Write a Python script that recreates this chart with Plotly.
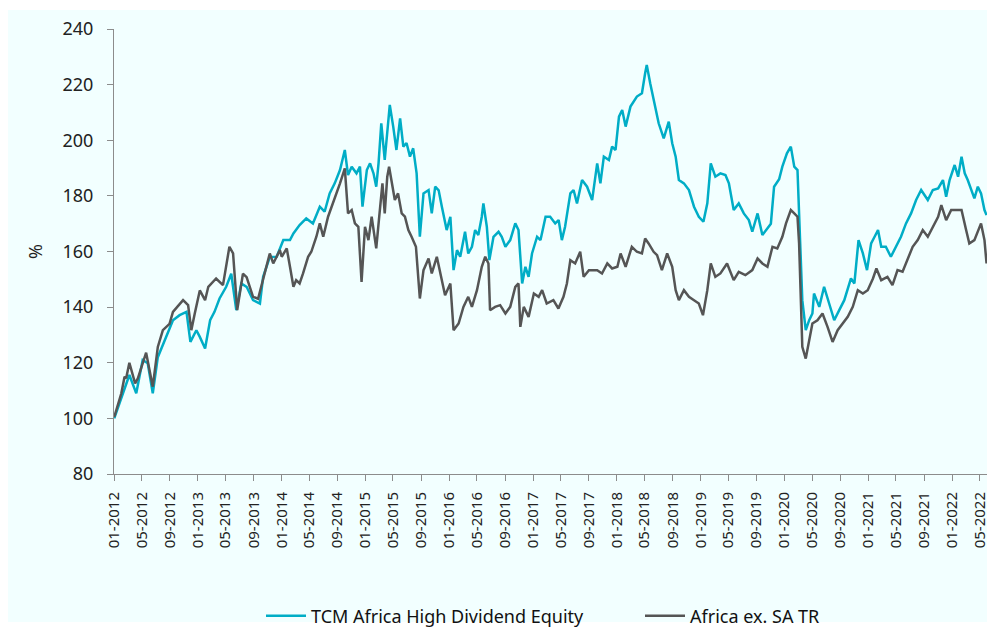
import plotly.graph_objects as go

tcm_dates = [
    "2012-01-02", "2012-01-25", "2012-02-23", "2012-03-08", "2012-04-07", "2012-05-05", "2012-05-27",
    "2012-06-18", "2012-07-10", "2012-08-16", "2012-09-14", "2012-10-13", "2012-11-12", "2012-11-29",
    "2012-12-25", "2013-01-09", "2013-02-01", "2013-02-23", "2013-03-14", "2013-04-05", "2013-05-04",
    "2013-05-26", "2013-06-17", "2013-07-09", "2013-08-01", "2013-08-29", "2013-09-28", "2013-10-12",
    "2013-11-10", "2013-12-10", "2014-01-08", "2014-02-06", "2014-02-21", "2014-03-20", "2014-04-18",
    "2014-05-17", "2014-06-16", "2014-07-07", "2014-07-29", "2014-08-20", "2014-09-12", "2014-10-03",
    "2014-10-17", "2014-11-02", "2014-11-23", "2014-12-08", "2014-12-19", "2015-01-07", "2015-01-21",
    "2015-02-05", "2015-02-17", "2015-02-27", "2015-03-11", "2015-03-26", "2015-04-17", "2015-05-02",
    "2015-05-16", "2015-06-01", "2015-06-15", "2015-06-29", "2015-07-14", "2015-07-28", "2015-08-12",
    "2015-08-26", "2015-09-11", "2015-10-03", "2015-10-17", "2015-11-01", "2015-11-16", "2015-11-30",
    "2015-12-21", "2016-01-06", "2016-01-20", "2016-02-04", "2016-02-18", "2016-03-10", "2016-03-24",
    "2016-04-09", "2016-04-23", "2016-05-07", "2016-05-22", "2016-05-29", "2016-06-13", "2016-06-24",
    "2016-07-12", "2016-08-03", "2016-08-17", "2016-09-02", "2016-09-23", "2016-10-15", "2016-10-29",
    "2016-11-14", "2016-11-28", "2016-12-12", "2016-12-27", "2017-01-18", "2017-02-02", "2017-02-24",
    "2017-03-16", "2017-04-07", "2017-04-22", "2017-05-06", "2017-05-20", "2017-06-12", "2017-06-26",
    "2017-07-11", "2017-08-02", "2017-08-24", "2017-09-15", "2017-10-07", "2017-10-21", "2017-11-05",
    "2017-11-27", "2017-12-11", "2017-12-26", "2018-01-10", "2018-01-24", "2018-02-08", "2018-03-01",
    "2018-03-29", "2018-04-20", "2018-05-04", "2018-05-11", "2018-05-26", "2018-06-10", "2018-07-02",
    "2018-07-24", "2018-08-15", "2018-08-30", "2018-09-14", "2018-09-28", "2018-10-20", "2018-11-11",
    "2018-12-03", "2018-12-24", "2019-01-13", "2019-01-30", "2019-02-14", "2019-03-06", "2019-03-28",
    "2019-04-19", "2019-05-04", "2019-05-25", "2019-06-16", "2019-07-08", "2019-07-30", "2019-08-14",
    "2019-09-06", "2019-09-27", "2019-10-19", "2019-11-03", "2019-11-17", "2019-12-09", "2019-12-23",
    "2020-01-12", "2020-01-29", "2020-02-13", "2020-02-27", "2020-03-05", "2020-03-12", "2020-03-19",
    "2020-04-03", "2020-04-18", "2020-05-02", "2020-05-09", "2020-06-01", "2020-06-22", "2020-07-14",
    "2020-08-05", "2020-08-27", "2020-09-18", "2020-10-17", "2020-11-01", "2020-11-19", "2020-12-08",
    "2020-12-26", "2021-01-13", "2021-01-28", "2021-02-12", "2021-02-26", "2021-03-18", "2021-04-09",
    "2021-05-01", "2021-05-23", "2021-06-14", "2021-07-06", "2021-07-28", "2021-08-19", "2021-09-17",
    "2021-10-09", "2021-11-01", "2021-11-22", "2021-12-06", "2021-12-21", "2022-01-12", "2022-01-27",
    "2022-02-11", "2022-02-25", "2022-03-10", "2022-03-24", "2022-04-08", "2022-04-23", "2022-05-07",
    "2022-05-22", "2022-05-31",
]
tcm_values = [
    100.0, 105.4, 112.6, 115.6, 109.0, 121.0, 119.8,
    109.0, 122.0, 129.3, 135.3, 137.1, 138.3, 127.5,
    131.7, 129.3, 125.1, 135.3, 138.3, 143.1, 147.3,
    152.0, 138.9, 148.5, 147.3, 142.5, 141.3, 150.9,
    158.0, 158.1, 164.1, 164.1, 166.5, 169.5, 171.9,
    170.1, 176.1, 174.3, 180.9, 184.5, 189.3, 196.5,
    187.5, 190.5, 188.1, 190.5, 176.1, 189.3, 191.7,
    188.1, 183.3, 191.7, 206.1, 192.9, 212.7, 204.9,
    196.5, 207.9, 197.7, 199.0, 194.1, 197.1, 188.1,
    165.3, 180.9, 182.1, 173.7, 183.3, 182.0, 176.1,
    167.7, 172.5, 153.3, 160.5, 158.1, 167.1, 159.3,
    161.7, 167.7, 165.9, 172.5, 177.3, 168.9, 156.9,
    165.3, 167.1, 165.3, 161.7, 164.1, 170.1, 167.7,
    148.5, 154.5, 150.9, 159.3, 165.3, 164.1, 172.5,
    172.5, 170.1, 171.3, 164.1, 168.9, 180.9, 182.1,
    177.3, 185.7, 183.3, 178.5, 191.7, 184.5, 194.1,
    192.9, 197.7, 196.5, 208.5, 210.9, 204.9, 212.1,
    215.7, 216.9, 224.1, 227.1, 220.5, 214.5, 206.1,
    200.7, 206.7, 198.9, 194.1, 185.7, 184.5, 182.1,
    176.1, 172.5, 170.7, 177.3, 191.7, 186.9, 188.1,
    187.5, 184.5, 174.9, 177.3, 173.7, 171.3, 167.1,
    173.7, 165.9, 168.3, 170.0, 183.3, 186.0, 190.5,
    195.3, 197.7, 190.5, 189.3, 172.5, 156.9, 142.5,
    131.7, 135.3, 137.7, 144.9, 140.1, 147.3, 141.3,
    135.3, 138.9, 142.5, 150.3, 148.5, 164.1, 159.3,
    153.3, 162.9, 165.3, 167.7, 161.7, 161.7, 158.1,
    161.7, 165.3, 170.1, 173.7, 178.5, 182.1, 178.5,
    182.1, 182.7, 185.7, 179.7, 185.7, 191.1, 186.9,
    194.1, 188.1, 185.7, 182.1, 179.1, 183.3, 180.9,
    174.9, 173.1,
]

afr_dates = [
    "2012-01-02", "2012-02-02", "2012-02-16", "2012-02-23", "2012-03-08", "2012-04-02", "2012-04-14",
    "2012-05-20", "2012-06-18", "2012-07-10", "2012-08-01", "2012-08-30", "2012-09-14", "2012-10-28",
    "2012-11-19", "2012-12-03", "2012-12-18", "2013-01-09", "2013-02-01", "2013-02-15", "2013-03-21",
    "2013-04-20", "2013-05-18", "2013-06-03", "2013-06-21", "2013-07-16", "2013-08-01", "2013-08-29",
    "2013-09-20", "2013-10-12", "2013-11-10", "2013-11-25", "2013-12-24", "2014-01-01", "2014-01-23",
    "2014-02-06", "2014-02-21", "2014-03-05", "2014-03-20", "2014-04-04", "2014-04-26", "2014-05-10",
    "2014-06-01", "2014-06-16", "2014-07-01", "2014-07-22", "2014-08-13", "2014-08-28", "2014-09-12",
    "2014-10-03", "2014-10-17", "2014-11-02", "2014-11-16", "2014-12-01", "2014-12-15", "2014-12-30",
    "2015-01-14", "2015-01-28", "2015-02-17", "2015-03-02", "2015-03-16", "2015-03-26", "2015-04-06",
    "2015-04-14", "2015-04-24", "2015-05-09", "2015-05-23", "2015-06-08", "2015-06-22", "2015-07-07",
    "2015-07-21", "2015-08-09", "2015-08-26", "2015-09-11", "2015-10-03", "2015-10-17", "2015-11-08",
    "2015-11-26", "2015-12-14", "2016-01-06", "2016-01-20", "2016-02-11", "2016-03-03", "2016-03-24",
    "2016-04-09", "2016-05-01", "2016-05-22", "2016-06-06", "2016-06-20", "2016-06-27", "2016-07-19",
    "2016-08-10", "2016-09-02", "2016-09-23", "2016-10-15", "2016-10-29", "2016-11-06", "2016-11-21",
    "2016-12-12", "2017-01-04", "2017-01-25", "2017-02-09", "2017-03-01", "2017-03-30", "2017-04-21",
    "2017-05-13", "2017-05-28", "2017-06-12", "2017-07-03", "2017-07-25", "2017-08-09", "2017-09-01",
    "2017-10-07", "2017-10-28", "2017-11-20", "2017-12-11", "2018-01-03", "2018-01-17", "2018-02-08",
    "2018-03-07", "2018-03-29", "2018-04-20", "2018-05-04", "2018-05-19", "2018-06-10", "2018-06-25",
    "2018-07-16", "2018-08-08", "2018-08-30", "2018-09-14", "2018-09-28", "2018-10-20", "2018-11-11",
    "2018-12-03", "2018-12-24", "2019-01-11", "2019-01-30", "2019-02-14", "2019-03-06", "2019-03-28",
    "2019-04-26", "2019-05-25", "2019-06-16", "2019-07-15", "2019-08-14", "2019-09-06", "2019-09-27",
    "2019-10-19", "2019-11-10", "2019-12-01", "2019-12-23", "2020-01-08", "2020-01-29", "2020-02-13",
    "2020-02-27", "2020-03-05", "2020-03-12", "2020-03-19", "2020-04-03", "2020-04-18", "2020-05-02",
    "2020-05-24", "2020-06-15", "2020-07-07", "2020-07-29", "2020-08-20", "2020-09-11", "2020-10-03",
    "2020-10-25", "2020-11-16", "2020-12-08", "2020-12-29", "2021-01-21", "2021-02-05", "2021-02-26",
    "2021-03-25", "2021-04-16", "2021-05-08", "2021-05-30", "2021-06-21", "2021-07-13", "2021-08-04",
    "2021-08-26", "2021-09-17", "2021-10-09", "2021-11-01", "2021-11-15", "2021-12-06", "2021-12-28",
    "2022-01-20", "2022-02-11", "2022-03-03", "2022-03-17", "2022-04-08", "2022-04-23", "2022-05-07",
    "2022-05-22", "2022-05-31",
]
afr_values = [
    100.5, 109.0, 115.0, 114.4, 120.0, 112.6, 114.4,
    123.6, 111.4, 125.7, 131.7, 134.0, 138.3, 142.5,
    140.7, 131.7, 137.7, 146.0, 142.5, 147.3, 150.3,
    147.9, 161.7, 159.3, 138.9, 152.0, 150.8, 143.7,
    143.0, 149.7, 159.3, 155.7, 160.5, 158.1, 161.1,
    154.5, 147.3, 149.7, 148.5, 152.1, 158.1, 159.9,
    165.3, 170.1, 165.3, 172.5, 177.3, 180.9, 184.5,
    189.9, 173.7, 174.9, 170.1, 168.9, 149.1, 168.9,
    164.1, 172.5, 161.1, 172.5, 184.5, 173.7, 186.9,
    190.5, 185.7, 178.5, 180.9, 173.7, 172.5, 167.7,
    165.3, 161.7, 143.1, 153.3, 157.5, 152.1, 158.1,
    150.9, 144.3, 148.5, 131.7, 134.1, 140.1, 143.7,
    140.1, 146.1, 154.5, 158.1, 155.7, 138.9, 140.1,
    140.7, 137.7, 140.1, 147.3, 148.5, 132.9, 140.1,
    136.5, 144.9, 143.7, 146.1, 141.3, 142.5, 139.5,
    143.7, 148.5, 156.9, 155.7, 159.9, 150.9, 153.3,
    153.3, 152.1, 155.7, 153.9, 154.5, 159.3, 154.5,
    161.7, 159.9, 159.3, 164.7, 162.9, 159.9, 158.7,
    153.3, 159.3, 154.5, 146.1, 142.5, 146.1, 143.7,
    142.5, 141.3, 137.1, 146.1, 155.7, 150.9, 152.1,
    155.7, 149.7, 152.7, 151.5, 153.3, 157.5, 155.7,
    154.5, 161.7, 161.1, 165.3, 170.1, 174.9, 173.7,
    172.5, 162.9, 147.3, 125.7, 121.5, 128.1, 134.1,
    135.3, 137.7, 132.9, 127.5, 131.7, 134.1, 136.5,
    140.1, 146.1, 144.9, 146.1, 150.3, 153.9, 149.7,
    150.9, 147.9, 153.3, 152.7, 156.9, 161.7, 164.1,
    167.7, 165.3, 168.9, 172.5, 176.7, 171.3, 174.9,
    174.9, 174.9, 167.7, 162.9, 164.1, 167.1, 170.1,
    164.1, 155.7,
]

series_names = ["TCM Africa High Dividend Equity", "Africa ex. SA TR"]
y_ticks = [80, 100, 120, 140, 160, 180, 200, 220, 240]

BG = "#F2FFFF"
AXIS = "#8C8C8C"
FONT = "Noto Sans, Open Sans, sans-serif"

fig = go.Figure()
fig.add_trace(go.Scatter(x=tcm_dates, y=tcm_values, mode="lines", name=series_names[0],
                         line=dict(color="#00ADC6", width=2.5)))
fig.add_trace(go.Scatter(x=afr_dates, y=afr_values, mode="lines", name=series_names[1],
                         line=dict(color="#555555", width=2.5)))

# The page body has an 8px margin: the figure's top-left sits at screen (8, 8).
OFF = 8
W, H = 995 - OFF, 628 - OFF
PX0, PX1, PY0, PY1 = 114, 987, 29, 474  # plot area in screen pixels
L, R, T, B = PX0 - OFF, 995 - PX1, PY0 - OFF, 628 - PY1
pw, ph = PX1 - PX0, PY1 - PY0

def px_x(p):
    return (p - PX0) / pw

def px_y(p):
    return (PY1 - p) / ph

fig.add_shape(type="rect", xref="paper", yref="paper",
              x0=px_x(OFF), x1=px_x(995), y0=px_y(622), y1=px_y(10),
              fillcolor=BG, line=dict(width=0), layer="below")

fig.update_layout(
    width=W, height=H,
    margin=dict(l=L, r=R, t=T, b=B, autoexpand=False),
    paper_bgcolor="white",
    plot_bgcolor="rgba(0,0,0,0)",
    font=dict(family=FONT, color="#222222"),
    showlegend=True,
    legend=dict(orientation="h", x=px_x(261), xanchor="left", y=px_y(616), yanchor="middle",
                font=dict(size=18, family=FONT, color="#111111"), bgcolor="rgba(0,0,0,0)",
                itemwidth=40, entrywidth=324, entrywidthmode="pixels", tracegroupgap=0),
    xaxis=dict(
        type="date", automargin=False,
        range=["2012-01-01", "2022-06-02"],
        tick0="2012-01-01", dtick="M4", tickformat="%m-%Y",
        tickangle=-90, tickfont=dict(size=15, family=FONT, color="#222222"),
        ticks="outside", ticklen=6, tickcolor=AXIS,
        showline=True, linecolor=AXIS, linewidth=1,
        showgrid=False, zeroline=False, ticklabelstandoff=5,
    ),
    yaxis=dict(
        range=[80, 240], tickvals=y_ticks, automargin=False,
        tickfont=dict(size=18, family=FONT, color="#222222"),
        ticks="outside", ticklen=6, tickcolor=AXIS,
        showline=True, linecolor=AXIS, linewidth=1,
        showgrid=False, zeroline=False,
        ticklabelstandoff=10,
        title=dict(text="%", font=dict(size=18, family=FONT, color="#222222"), standoff=15),
    ),
)

fig.write_html("out.html")
